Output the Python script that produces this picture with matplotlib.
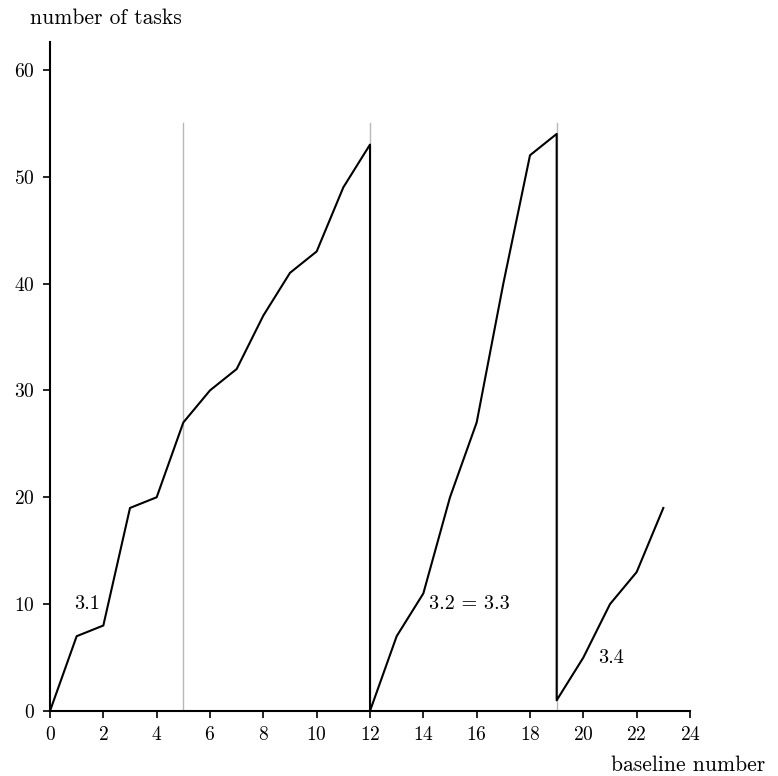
import matplotlib.pyplot as plt
import numpy as np

plt.rcParams['font.family'] = ['cmr10', 'DejaVu Serif']
plt.rcParams['mathtext.fontset'] = 'cm'
plt.rcParams['axes.formatter.use_mathtext'] = True

# baseline number -> number of tasks (three runs)
x1 = [0, 1, 2, 3, 4, 5, 6, 7, 8, 9, 10, 11, 12]
y1 = [0, 7, 8, 19, 20, 27, 30, 32, 37, 41, 43, 49, 53]
x2 = [12, 13, 14, 15, 16, 17, 18, 19]
y2 = [0, 7, 11, 20, 27, 40, 52, 54]
x3 = [19, 20, 21, 22, 23]
y3 = [1, 5, 10, 13, 19]

markers = [5, 12, 19]
labels = [(0.9, 10.0, '3.1'), (14.2, 10.0, '3.2 = 3.3'), (20.55, 5.0, '3.4')]

fig = plt.figure(figsize=(7.78, 7.76), dpi=100)
ax = fig.add_axes([50/778, 65/776, 640/778, 669/776])

for m in markers:
    ax.plot([m, m], [0, 55], color='#b8b8b8', lw=1, zorder=1)

xs = x1 + x2 + x3
ys = y1 + y2 + y3
ax.plot(xs, ys, color='black', lw=1.5, zorder=2)

for lx, ly, t in labels:
    ax.text(lx, ly, t, fontsize=14.5, ha='left', va='center')

ax.set_xlim(0, 24)
ax.set_ylim(0, 62.6)
ax.set_xticks(np.arange(0, 25, 2))
ax.set_yticks(np.arange(0, 61, 10))
ax.spines['top'].set_visible(False)
ax.spines['right'].set_visible(False)
ax.spines['left'].set_linewidth(1.5)
ax.spines['bottom'].set_linewidth(1.5)
ax.tick_params(direction='out', length=5, width=1.2, labelsize=14, pad=6)

fig.text(30/778, 1 - 18/776, 'number of tasks', fontsize=15.5, ha='left', va='center')
fig.text(765/778, 1 - 765/776, 'baseline number', fontsize=15.5, ha='right', va='center')

fig.savefig('out.png', dpi=100)
